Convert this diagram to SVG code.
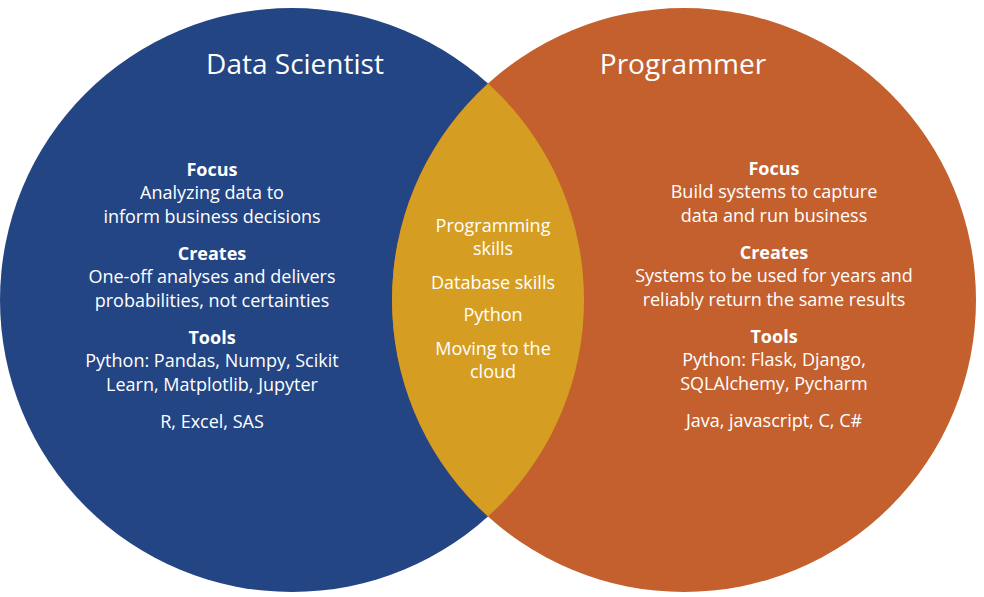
<svg xmlns="http://www.w3.org/2000/svg" width="984" height="597" viewBox="0 0 984 597">
<style>
text{font-family:"Open Sans","Liberation Sans",sans-serif;fill:#fff;text-anchor:middle;font-size:18px}
.t{font-size:28px}
.b{font-weight:bold}
</style>
<defs>
<clipPath id="cl"><circle cx="292" cy="300" r="292"/></clipPath>
</defs>
<rect width="984" height="597" fill="#fff"/>
<g id="ds"><circle cx="292" cy="300" r="292" fill="#234584"/>
<text x="295" y="74" class="t">Data Scientist</text>
<text x="212" y="176" class="b">Focus</text>
<text x="212" y="199">Analyzing data to</text>
<text x="212" y="223">inform business decisions</text>
<text x="212" y="260" class="b">Creates</text>
<text x="212" y="283">One-off analyses and delivers</text>
<text x="212" y="307">probabilities, not certainties</text>
<text x="212" y="344" class="b">Tools</text>
<text x="212" y="367">Python: Pandas, Numpy, Scikit</text>
<text x="212" y="391">Learn, Matplotlib, Jupyter</text>
<text x="212" y="428">R, Excel, SAS</text>
</g>
<g id="pr"><circle cx="684" cy="300" r="292" fill="#C4602D"/>
<text x="683" y="74" class="t">Programmer</text>
<text x="774" y="175" class="b">Focus</text>
<text x="774" y="198">Build systems to capture</text>
<text x="774" y="222">data and run business</text>
<text x="774" y="259" class="b">Creates</text>
<text x="774" y="282">Systems to be used for years and</text>
<text x="774" y="306">reliably return the same results</text>
<text x="774" y="343" class="b">Tools</text>
<text x="774" y="366">Python: Flask, Django,</text>
<text x="774" y="390">SQLAlchemy, Pycharm</text>
<text x="774" y="427">Java, javascript, C, C#</text>
</g>
<g id="both"><circle cx="684" cy="300" r="292" fill="#D59E22" clip-path="url(#cl)"/>
<text x="493" y="232">Programming</text>
<text x="493" y="255">skills</text>
<text x="493" y="289">Database skills</text>
<text x="493" y="321">Python</text>
<text x="493" y="355">Moving to the</text>
<text x="493" y="378">cloud</text>
</g>
<g id="connectors"/>
</svg>
